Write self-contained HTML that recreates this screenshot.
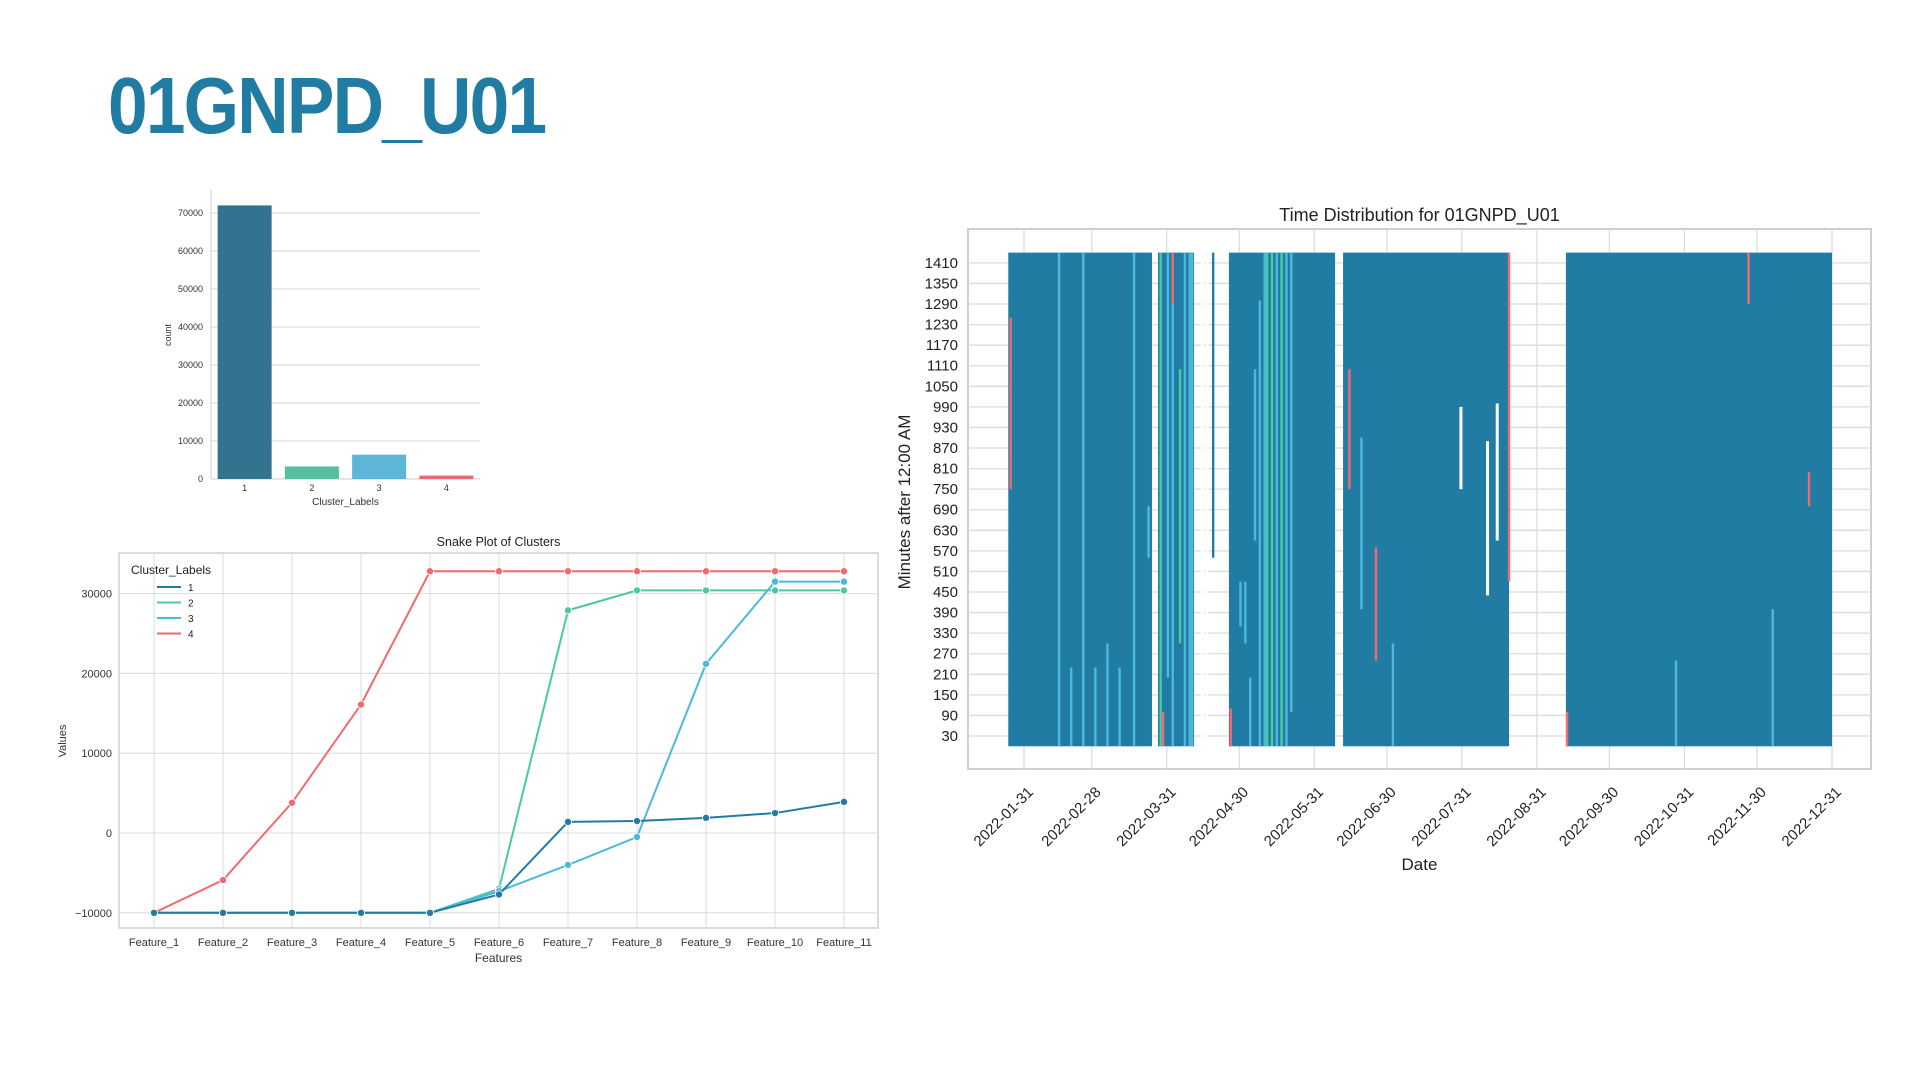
<!DOCTYPE html>
<html><head><meta charset="utf-8">
<style>
html,body{margin:0;padding:0;background:#fff;}
body{width:1920px;height:1080px;overflow:hidden;position:relative;font-family:"Liberation Sans",sans-serif;}
#title{position:absolute;left:108px;top:60px;font-size:80px;font-weight:bold;color:#217ca3;letter-spacing:-2px;margin:0;transform:scaleX(0.89);transform-origin:left top;}
svg{position:absolute;left:0;top:0;}
svg text{font-family:"Liberation Sans",sans-serif;}
</style></head>
<body>
<h1 id="title">01GNPD_U01</h1>
<svg id="svg" width="1920" height="1080">
<g id="bar"></g>
<g id="snake"></g>
<g id="scat"></g>
</svg>
<script>
// ---- bar chart data ----
const barCats = ["1","2","3","4"];
const barVals = [72000, 3300, 6400, 900];
const barTicks = [0,10000,20000,30000,40000,50000,60000,70000];
// ---- snake plot data ----
const featureNames = ["Feature_1","Feature_2","Feature_3","Feature_4","Feature_5","Feature_6","Feature_7","Feature_8","Feature_9","Feature_10","Feature_11"];
const series1 = [-10000,-10000,-10000,-10000,-10000,-7700,1400,1500,1900,2500,3900];
const series2 = [-10000,-10000,-10000,-10000,-10000,-7000,27900,30400,30400,30400,30400];
const series3 = [-10000,-10000,-10000,-10000,-10000,-7300,-4000,-500,21200,31500,31500];
const series4 = [-10000,-5900,3800,16100,32800,32800,32800,32800,32800,32800,32800];
const snakeTicks = [-10000,0,10000,20000,30000];
// ---- time distribution data (day of year, minutes) ----
const activeStart = [24.5, 86.4, 115.7, 162.9, 255];
const activeEnd   = [83.9, 101.3, 159.6, 231.5, 365];
const stripeDay   = [25, 45, 55, 70, 76, 82, 87, 88, 92, 92, 95, 97, 100, 108.7, 116, 120, 130, 133, 137, 141, 165, 176, 231, 255, 330, 355, 211, 222, 226, 104, 106, 122, 124, 126, 128, 131, 135, 139, 50, 60, 65, 90, 99, 170, 183, 300, 340];
const stripeFrom  = [750, 0, 0, 0, 0, 550, 0, 0, 0, 1290, 300, 0, 0, 550, 0, 350, 0, 0, 0, 100, 750, 250, 480, 0, 1290, 700, 750, 440, 600, 0, 0, 300, 0, 600, 0, 0, 0, 0, 0, 0, 0, 200, 0, 400, 0, 0, 0];
const stripeTo    = [1250, 1440, 1440, 230, 1440, 700, 1440, 100, 1440, 1440, 1100, 1440, 1440, 1440, 110, 480, 1440, 1440, 1440, 1440, 1100, 580, 1440, 100, 1440, 800, 990, 890, 1000, 1440, 1440, 480, 200, 1100, 1300, 1440, 1440, 1440, 230, 230, 300, 1440, 1440, 900, 300, 250, 400];
const stripeClass = ["4","3","3","3","3","3","2","4","3","4","2","3","3","1","4","3","3","2","2","3","4","4","4","4","4","4","w","w","w","w","w","3","3","3","3","2","3","3","3","3","3","3","3","3","3","3","3"];
const yTicksMin = [30,90,150,210,270,330,390,450,510,570,630,690,750,810,870,930,990,1050,1110,1170,1230,1290,1350,1410];
const dateTickDays = [31,59,90,120,151,181,212,243,273,304,334,365];
const dateTickLabels = ["2022-01-31","2022-02-28","2022-03-31","2022-04-30","2022-05-31","2022-06-30","2022-07-31","2022-08-31","2022-09-30","2022-10-31","2022-11-30","2022-12-31"];

const NS="http://www.w3.org/2000/svg";
function mk(parent,tag,attrs,txt){const e=document.createElementNS(NS,tag);for(const k in attrs)e.setAttribute(k,attrs[k]);if(txt!==undefined)e.textContent=txt;parent.appendChild(e);return e;}
const colors={"1":"#217ca3","2":"#4cc9a0","3":"#4db8de","4":"#f06a6f","w":"#ffffff"};

// ===== Bar chart =====
(function(){
  const g=document.getElementById('bar');
  const X0=211,X1=480,Y0=479;
  const y=v=>Y0-v*(266/70000);
  barTicks.forEach(t=>{
    if(t>0){const l=mk(g,'line',{x1:X0,x2:X1,y1:y(t),y2:y(t),stroke:'#d6d6d6','stroke-width':1});
    
    }
    const tx=mk(g,'text',{x:X0-8,y:y(t)+3,'font-size':9,fill:'#333','text-anchor':'end'},String(t));
    
    
  });
  mk(g,'line',{x1:X0,x2:X0,y1:190,y2:Y0,stroke:'#ccc'});
  mk(g,'line',{x1:X0,x2:X1,y1:Y0,y2:Y0,stroke:'#ccc'});
  const band=(X1-X0)/barCats.length, bw=54;
  const bc=["#32738f","#55bfa0","#5db5d8","#e8696e"];
  barCats.forEach((c,i)=>{
    const cx=X0+band*(i+0.5);
    const r=mk(g,'rect',{x:cx-bw/2,y:y(barVals[i]),width:bw,height:Y0-y(barVals[i]),fill:bc[i]});
    
    
    const t=mk(g,'text',{x:cx,y:Y0+12,'font-size':9,fill:'#333','text-anchor':'middle'},c);
    
    
  });
  const xl=mk(g,'text',{x:(X0+X1)/2,y:505,'font-size':10,fill:'#333','text-anchor':'middle'},'Cluster_Labels');
  
  
  const yl=mk(g,'text',{x:0,y:0,'font-size':9,fill:'#333','text-anchor':'middle',transform:'translate(171,335) rotate(-90)'},'count');
  
  
})();

// ===== Snake plot =====
(function(){
  const g=document.getElementById('snake');
  const L=119,R=878,T=553,B=928;
  const x=i=>154+i*69;
  const y=v=>833-v*(79.8/10000);
  mk(g,'rect',{x:L,y:T,width:R-L,height:B-T,fill:'#fff',stroke:'#d0d0d0','stroke-width':1.5});
  snakeTicks.forEach(t=>{
    mk(g,'line',{x1:L,x2:R,y1:y(t),y2:y(t),stroke:'#dcdcdc'});
    const tx=mk(g,'text',{x:L-7,y:y(t)+4,'font-size':11,fill:'#333','text-anchor':'end'},(t<0?'\u2212':'')+Math.abs(t));
    
    
  });
  featureNames.forEach((f,i)=>{
    mk(g,'line',{x1:x(i),x2:x(i),y1:T,y2:B,stroke:'#dcdcdc'});
    const tx=mk(g,'text',{x:x(i),y:946,'font-size':11,fill:'#333','text-anchor':'middle'},f);
    
    
  });
  const all=[series1,series2,series3,series4];
  const sc=[colors["1"],colors["2"],colors["3"],colors["4"]];
  [3,1,2,0].forEach(k=>{
    const s=all[k];
    const p=mk(g,'polyline',{points:s.map((v,i)=>x(i)+','+y(v)).join(' '),fill:'none',stroke:sc[k],'stroke-width':2});
    
    
    s.forEach((v,i)=>{
      const c=mk(g,'circle',{cx:x(i),cy:y(v),r:3.6,fill:sc[k],stroke:'#fff','stroke-width':0.8});
      
      
    });
  });
  const tt=mk(g,'text',{x:(L+R)/2,y:546,'font-size':12.5,fill:'#222','text-anchor':'middle'},'Snake Plot of Clusters');
  
  
  const xl=mk(g,'text',{x:(L+R)/2,y:962,'font-size':12,fill:'#333','text-anchor':'middle'},'Features');
  
  
  const yl=mk(g,'text',{x:0,y:0,'font-size':11,fill:'#333','text-anchor':'middle',transform:'translate(66,741) rotate(-90)'},'Values');
  
  
  const lg=mk(g,'g',{});
  
  
  mk(lg,'text',{x:131,y:574,'font-size':12,fill:'#222'},'Cluster_Labels');
  ["1","2","3","4"].forEach((c,i)=>{
    const yy=587+i*15.5;
    mk(lg,'line',{x1:157,x2:181,y1:yy,y2:yy,stroke:colors[c],'stroke-width':2});
    const t=mk(lg,'text',{x:188,y:yy+4,'font-size':10,fill:'#222'},c);
    
    
  });
})();

// ===== Time distribution =====
(function(){
  const g=document.getElementById('scat');
  const L=968,R=1871,T=229,B=769;
  const x=d=>1024+(d-31)*(808/334);
  const y=m=>736-(m-30)*(20.57/60);
  mk(g,'rect',{x:L,y:T,width:R-L,height:B-T,fill:'#fff',stroke:'#cfcfcf','stroke-width':2});
  yTicksMin.forEach(t=>{
    mk(g,'line',{x1:L,x2:R,y1:y(t),y2:y(t),stroke:'#dcdcdc','stroke-width':1.3});
    const tx=mk(g,'text',{x:958,y:y(t)+5,'font-size':15,fill:'#222','text-anchor':'end'},String(t));
    
    
  });
  dateTickDays.forEach((d,i)=>{
    mk(g,'line',{x1:x(d),x2:x(d),y1:T,y2:B,stroke:'#dcdcdc','stroke-width':1.3});
    const tx=mk(g,'text',{x:0,y:0,'font-size':15,fill:'#222','text-anchor':'end',transform:'translate('+(x(d)+10)+','+(B+24)+') rotate(-45)'},dateTickLabels[i]);
    
    
  });
  const data=mk(g,'g',{});
  
  
  activeStart.forEach((s,i)=>{
    const r=mk(data,'rect',{x:x(s),y:y(1440),width:x(activeEnd[i])-x(s),height:y(0)-y(1440),fill:colors["1"]});
    
    
  });
  stripeDay.forEach((d,i)=>{
    const c=stripeClass[i];
    const w=c==='w'?3:2.4;
    const r=mk(data,'rect',{x:x(d),y:y(stripeTo[i]),width:w,height:y(stripeFrom[i])-y(stripeTo[i]),fill:colors[c]});
    
    
  });
  const tt=mk(g,'text',{x:(L+R)/2,y:221,'font-size':18,fill:'#222','text-anchor':'middle'},'Time Distribution for 01GNPD_U01');
  
  
  const xl=mk(g,'text',{x:(L+R)/2,y:870,'font-size':17,fill:'#222','text-anchor':'middle'},'Date');
  
  
  const yl=mk(g,'text',{x:0,y:0,'font-size':17,fill:'#222','text-anchor':'middle',transform:'translate(910,502) rotate(-90)'},'Minutes after 12:00 AM');
  
  
})();
</script>
</body></html>
